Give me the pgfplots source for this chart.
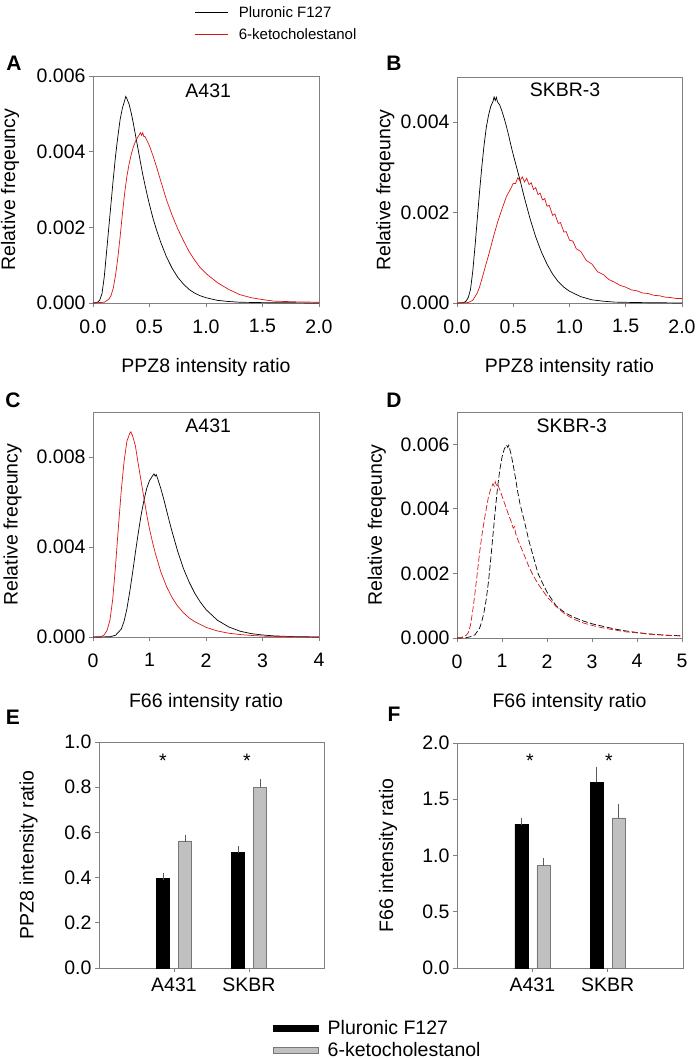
\documentclass[border=0pt]{standalone}
\usepackage{fontspec}
\setmainfont{Liberation Sans}
\usepackage{pgfplots}
\pgfplotsset{compat=1.18}

\definecolor{cred}{RGB}{220,20,20}
\definecolor{axgray}{RGB}{128,128,128}
\definecolor{bargray}{RGB}{192,192,192}
\definecolor{baredge}{RGB}{120,120,120}
\definecolor{errgray}{RGB}{90,90,90}

\newcommand\fs{\fontsize{19.5}{23}\selectfont}
\newcommand\lfs{\fontsize{21}{25}\selectfont\bfseries}

\pgfplotsset{
 every axis/.append style={
  scale only axis,
  anchor=south west,
  axis line style={draw=axgray, line width=0.8pt},
  tick style={draw=axgray, line width=0.8pt},
  tick align=outside,
  major tick length=4pt,
  tick pos=left,
  tick label style={font=\fs},
  label style={font=\fs},
  title style={font=\fs, anchor=center},
  scaled ticks=false,
 },
 curve/.style={line width=0.7pt, no marks},
 dcurve/.style={line width=0.7pt, no marks, dash pattern=on 6pt off 2.5pt},
 histaxis/.style={xticklabel style={yshift=-9pt}},
 baraxis/.style={xticklabel style={yshift=-2pt}},
}

\begin{document}
\begin{tikzpicture}
\path[use as bounding box] (0pt,0pt) rectangle (697pt,-1059pt);

% ---------------- Panel A ----------------
\begin{axis}[histaxis, at={(93pt,-303pt)}, width=226pt, height=227pt,
  xmin=0, xmax=2, ymin=0, ymax=0.006,
  xtick={0,0.5,1,1.5,2}, xticklabels={0.0,0.5,1.0,1.5,2.0},
  ytick={0,0.002,0.004,0.006}, yticklabels={0.000,0.002,0.004,0.006},
  xlabel={PPZ8 intensity ratio}, ylabel={Relative freqeuncy},
  xlabel style={at={(axis description cs:0.5,-0.286)}, anchor=center},
  ylabel style={at={(axis description cs:-0.367,0.5)}, anchor=center},
  title={A431}, title style={at={(axis description cs:0.51,0.907)}},
  legend style={at={(axis description cs:0.451,1.317)}, anchor=north west, draw=none, fill=none, inner sep=0pt, row sep=6pt, column sep=8pt, font=\fontsize{15}{18}\selectfont},
  legend cell align=left,
  legend image code/.code={\draw[#1] (0pt,0pt) -- (33pt,0pt);},
]
\addplot[curve, black] coordinates {
(0.00,0) (0.04,0.00002) (0.06,0.00008) (0.08,0.00025) (0.10,0.00070) (0.12,0.00135)
(0.14,0.00200) (0.16,0.00265) (0.18,0.00330) (0.20,0.00390) (0.22,0.00440) (0.24,0.00485)
(0.26,0.00515) (0.28,0.00535) (0.29,0.00546) (0.30,0.00540) (0.32,0.00525) (0.34,0.00500)
(0.36,0.00470) (0.38,0.00437) (0.40,0.00405) (0.42,0.00372) (0.44,0.00340) (0.46,0.00312)
(0.48,0.00285) (0.50,0.00260) (0.53,0.00225) (0.56,0.00195) (0.60,0.00160) (0.65,0.00122)
(0.70,0.00092) (0.75,0.00068) (0.80,0.00050) (0.85,0.00036) (0.90,0.00026) (0.95,0.00019)
(1.00,0.00014) (1.10,0.00007) (1.20,0.00004) (1.30,0.00002) (1.50,0.00001) (2.00,0)
};
\addlegendentry{Pluronic F127}
\addplot[curve, cred] coordinates {
(0.00,0) (0.10,0.00002) (0.14,0.00010) (0.16,0.00020) (0.18,0.00040) (0.20,0.00075)
(0.22,0.00120) (0.24,0.00175) (0.26,0.00235) (0.28,0.00290) (0.30,0.00335) (0.32,0.00368)
(0.34,0.00395) (0.36,0.00415) (0.38,0.00430) (0.40,0.00440) (0.42,0.00450) (0.43,0.00443)
(0.44,0.00450) (0.45,0.00440) (0.46,0.00440) (0.48,0.00428) (0.50,0.00415) (0.53,0.00390)
(0.56,0.00362) (0.60,0.00322) (0.65,0.00273) (0.70,0.00232) (0.75,0.00196) (0.80,0.00165)
(0.85,0.00136) (0.90,0.00113) (0.95,0.00093) (1.00,0.00078) (1.10,0.00054) (1.20,0.00036)
(1.30,0.00022) (1.40,0.00014) (1.50,0.00009) (1.60,0.00005) (1.80,0.00003) (2.00,0.00002)
};
\addlegendentry{6-ketocholestanol}
\end{axis}

% ---------------- Panel B ----------------
\begin{axis}[histaxis, at={(457pt,-303pt)}, width=225pt, height=226pt,
  xmin=0, xmax=2, ymin=0, ymax=0.005,
  xtick={0,0.5,1,1.5,2}, xticklabels={0.0,0.5,1.0,1.5,2.0},
  ytick={0,0.002,0.004}, yticklabels={0.000,0.002,0.004},
  xlabel={PPZ8 intensity ratio}, ylabel={Relative freqeuncy},
  xlabel style={at={(axis description cs:0.5,-0.286)}, anchor=center},
  ylabel style={at={(axis description cs:-0.318,0.5)}, anchor=center},
  title={SKBR-3}, title style={at={(axis description cs:0.48,0.916)}},
]
\addplot[curve, black] coordinates {
(0.00,0) (0.06,0.00001) (0.08,0.00004) (0.10,0.00012) (0.12,0.00030) (0.14,0.00070)
(0.16,0.00125) (0.18,0.00185) (0.20,0.00245) (0.22,0.00300) (0.24,0.00348) (0.26,0.00388)
(0.28,0.00415) (0.30,0.00435) (0.32,0.00446) (0.33,0.00456) (0.34,0.00448) (0.35,0.00455)
(0.36,0.00445) (0.38,0.00438) (0.40,0.00424) (0.42,0.00408) (0.44,0.00390) (0.46,0.00370)
(0.48,0.00348) (0.50,0.00328) (0.53,0.00300) (0.56,0.00272) (0.60,0.00232) (0.65,0.00186)
(0.70,0.00146) (0.75,0.00113) (0.80,0.00086) (0.85,0.00064) (0.90,0.00047) (0.95,0.00035)
(1.00,0.00026) (1.10,0.00014) (1.20,0.00007) (1.30,0.00004) (1.40,0.00002) (1.60,0.00001)
(2.00,0)
};
\addplot[curve, cred] coordinates {
(0.00,0) (0.10,0.00001) (0.14,0.00006) (0.18,0.00022) (0.20,0.00035) (0.22,0.00052)
(0.24,0.00070) (0.26,0.00088) (0.28,0.00105) (0.30,0.00124) (0.33,0.00152) (0.36,0.00178)
(0.40,0.00208) (0.44,0.00236) (0.48,0.00254) (0.50,0.00265) (0.52,0.00264) (0.54,0.00277)
(0.56,0.00270) (0.58,0.00279) (0.60,0.00268) (0.62,0.00276) (0.64,0.00262) (0.66,0.00266)
(0.68,0.00251) (0.70,0.00255) (0.72,0.00240) (0.74,0.00243) (0.76,0.00228) (0.78,0.00231)
(0.80,0.00214) (0.82,0.00216) (0.85,0.00194) (0.87,0.00197) (0.90,0.00176) (0.92,0.00178)
(0.95,0.00157) (0.97,0.00158) (1.00,0.00139) (1.03,0.00137) (1.06,0.00120) (1.10,0.00114)
(1.15,0.00094) (1.20,0.00086) (1.25,0.00069) (1.30,0.00063) (1.35,0.00052) (1.40,0.00046)
(1.45,0.00039) (1.50,0.00035) (1.55,0.00029) (1.60,0.00027) (1.65,0.00022) (1.70,0.00021)
(1.75,0.00017) (1.80,0.00016) (1.85,0.00013) (1.90,0.00012) (1.95,0.00010) (2.00,0.00010)
};
\end{axis}

% ---------------- Panel C ----------------
\begin{axis}[histaxis, at={(93pt,-637pt)}, width=226pt, height=225pt,
  xmin=0, xmax=4, ymin=0, ymax=0.01,
  xtick={0,1,2,3,4}, xticklabels={0,1,2,3,4},
  ytick={0,0.004,0.008}, yticklabels={0.000,0.004,0.008},
  xlabel={F66 intensity ratio}, ylabel={Relative freqeuncy},
  xlabel style={at={(axis description cs:0.5,-0.289)}, anchor=center},
  ylabel style={at={(axis description cs:-0.356,0.5)}, anchor=center},
  title={A431}, title style={at={(axis description cs:0.51,0.911)}},
]
\addplot[curve, black] coordinates {
(0.00,0) (0.30,0.00001) (0.40,0.00008) (0.50,0.00035) (0.55,0.00070) (0.60,0.00125)
(0.65,0.00200) (0.70,0.00285) (0.75,0.00375) (0.80,0.00460) (0.85,0.00540) (0.90,0.00605)
(0.95,0.00660) (1.00,0.00695) (1.05,0.00715) (1.08,0.00725) (1.10,0.00715) (1.12,0.00722)
(1.15,0.00700) (1.20,0.00660) (1.25,0.00615) (1.30,0.00565) (1.35,0.00515) (1.40,0.00468)
(1.50,0.00380) (1.60,0.00305) (1.70,0.00245) (1.80,0.00195) (1.90,0.00155) (2.00,0.00122)
(2.20,0.00075) (2.40,0.00045) (2.60,0.00026) (2.80,0.00015) (3.00,0.00009) (3.20,0.00005)
(3.50,0.00002) (4.00,0)
};
\addplot[curve, cred] coordinates {
(0.00,0) (0.15,0.00002) (0.20,0.00010) (0.25,0.00030) (0.30,0.00075) (0.35,0.00170)
(0.40,0.00320) (0.45,0.00490) (0.50,0.00650) (0.55,0.00780) (0.60,0.00870) (0.65,0.00905)
(0.67,0.00912) (0.69,0.00900) (0.70,0.00895) (0.75,0.00850) (0.80,0.00770) (0.85,0.00695)
(0.90,0.00620) (0.95,0.00545) (1.00,0.00480) (1.05,0.00425) (1.10,0.00375) (1.20,0.00290)
(1.30,0.00225) (1.40,0.00175) (1.50,0.00137) (1.60,0.00108) (1.70,0.00085) (1.80,0.00068)
(2.00,0.00043) (2.20,0.00027) (2.40,0.00017) (2.60,0.00011) (2.80,0.00007) (3.00,0.00004)
(3.50,0.00001) (4.00,0)
};
\end{axis}

% ---------------- Panel D ----------------
\begin{axis}[histaxis, at={(457pt,-638pt)}, width=225pt, height=226pt,
  xmin=0, xmax=5, ymin=0, ymax=0.007,
  xtick={0,1,2,3,4,5}, xticklabels={0,1,2,3,4,5},
  ytick={0,0.002,0.004,0.006}, yticklabels={0.000,0.002,0.004,0.006},
  xlabel={F66 intensity ratio}, ylabel={Relative freqeuncy},
  xlabel style={at={(axis description cs:0.5,-0.284)}, anchor=center},
  ylabel style={at={(axis description cs:-0.356,0.5)}, anchor=center},
  title={SKBR-3}, title style={at={(axis description cs:0.51,0.911)}},
]
\addplot[dcurve, black] coordinates {
(0.00,0) (0.20,0.00001) (0.30,0.00004) (0.40,0.00010) (0.50,0.00030) (0.55,0.00050)
(0.60,0.00080) (0.65,0.00120) (0.70,0.00175) (0.75,0.00245) (0.80,0.00320) (0.85,0.00395)
(0.90,0.00465) (0.95,0.00520) (1.00,0.00560) (1.05,0.00585) (1.10,0.00598) (1.13,0.00590)
(1.15,0.00597) (1.20,0.00570) (1.25,0.00535) (1.30,0.00495) (1.35,0.00452) (1.40,0.00415)
(1.50,0.00360) (1.60,0.00300) (1.70,0.00250) (1.80,0.00200) (1.90,0.00170) (2.00,0.00142)
(2.20,0.00100) (2.40,0.00078) (2.60,0.00064) (2.80,0.00053) (3.00,0.00044) (3.25,0.00036)
(3.50,0.00028) (3.75,0.00022) (4.00,0.00017) (4.25,0.00013) (4.50,0.00010) (4.75,0.00008)
(5.00,0.00007)
};
\addplot[dcurve, cred] coordinates {
(0.00,0) (0.10,0.00002) (0.20,0.00008) (0.25,0.00016) (0.30,0.00040) (0.35,0.00085)
(0.40,0.00140) (0.45,0.00200) (0.50,0.00262) (0.55,0.00315) (0.60,0.00360) (0.65,0.00400)
(0.70,0.00438) (0.75,0.00462) (0.80,0.00478) (0.83,0.00470) (0.85,0.00484) (0.88,0.00472)
(0.90,0.00476) (0.95,0.00460) (1.00,0.00440) (1.05,0.00420) (1.10,0.00400) (1.15,0.00380)
(1.20,0.00362) (1.25,0.00340) (1.28,0.00345) (1.30,0.00325) (1.35,0.00305) (1.40,0.00288)
(1.50,0.00255) (1.60,0.00220) (1.70,0.00192) (1.80,0.00168) (1.90,0.00148) (2.00,0.00128)
(2.20,0.00098) (2.40,0.00074) (2.60,0.00058) (2.80,0.00047) (3.00,0.00039) (3.25,0.00031)
(3.50,0.00025) (3.75,0.00019) (4.00,0.00016) (4.25,0.00012) (4.50,0.00010) (4.75,0.00008)
(5.00,0.00006)
};
\end{axis}

% ---------------- Panel E ----------------
\begin{axis}[baraxis, at={(99pt,-968pt)}, width=225pt, height=226pt,
  xmin=0, xmax=3, ymin=0, ymax=1,
  xtick={1,2}, xticklabels={A431,SKBR},
  ytick={0,0.2,0.4,0.6,0.8,1.0}, yticklabels={0.0,0.2,0.4,0.6,0.8,1.0},
  ybar=9pt, bar width=13pt,
  ylabel={PPZ8 intensity ratio},
  ylabel style={at={(axis description cs:-0.313,0.5)}, anchor=center},
  legend style={at={(axis description cs:0.773,-0.222)}, anchor=north west, draw=none, fill=none, inner sep=0pt, row sep=2pt, column sep=7pt, font=\fs},
  legend cell align=left,
  legend image code/.code={\draw[#1] (0pt,-3pt) rectangle (45pt,3pt);},
]
\addplot[fill=black, draw=black, line width=0.6pt,
  error bars/.cd, y dir=plus, y explicit,
  error bar style={errgray, line width=0.7pt},
  error mark options={errgray, line width=0.7pt, mark size=3.5pt}]
  coordinates {(1,0.395) +- (0,0.012) (2,0.512) +- (0,0.013)};
\addlegendentry{Pluronic F127}
\addplot[fill=bargray, draw=baredge, line width=0.6pt,
  error bars/.cd, y dir=plus, y explicit,
  error bar style={errgray, line width=0.7pt},
  error mark options={errgray, line width=0.7pt, mark size=3.5pt}]
  coordinates {(1,0.562) +- (0,0.013) (2,0.800) +- (0,0.020)};
\addlegendentry{6-ketocholestanol}
\node[font=\fs] at (axis cs:0.853,0.916) {*};
\node[font=\fs] at (axis cs:1.973,0.916) {*};
\end{axis}

% ---------------- Panel F ----------------
\begin{axis}[baraxis, at={(457pt,-968pt)}, width=226pt, height=225pt,
  xmin=0, xmax=3, ymin=0, ymax=2,
  xtick={1,2}, xticklabels={A431,SKBR},
  ytick={0,0.5,1.0,1.5,2.0}, yticklabels={0.0,0.5,1.0,1.5,2.0},
  ybar=9pt, bar width=13pt,
  ylabel={F66 intensity ratio},
  ylabel style={at={(axis description cs:-0.305,0.5)}, anchor=center},
]
\addplot[fill=black, draw=black, line width=0.6pt,
  error bars/.cd, y dir=plus, y explicit,
  error bar style={errgray, line width=0.7pt},
  error mark options={errgray, line width=0.7pt, mark size=3.5pt}]
  coordinates {(1,1.28) +- (0,0.025) (2,1.65) +- (0,0.11)};
\addplot[fill=bargray, draw=baredge, line width=0.6pt,
  error bars/.cd, y dir=plus, y explicit,
  error bar style={errgray, line width=0.7pt},
  error mark options={errgray, line width=0.7pt, mark size=3.5pt}]
  coordinates {(1,0.91) +- (0,0.035) (2,1.335) +- (0,0.09)};
\node[font=\fs] at (axis cs:0.969,1.84) {*};
\node[font=\fs] at (axis cs:2.018,1.84) {*};
\end{axis}

% panel letters
\node[font=\lfs] at (14pt,-63pt) {A};
\node[font=\lfs] at (394pt,-63pt) {B};
\node[font=\lfs] at (13pt,-400pt) {C};
\node[font=\lfs] at (394pt,-400pt) {D};
\node[font=\lfs] at (13pt,-717pt) {E};
\node[font=\lfs] at (394pt,-714pt) {F};
\end{tikzpicture}
\end{document}
